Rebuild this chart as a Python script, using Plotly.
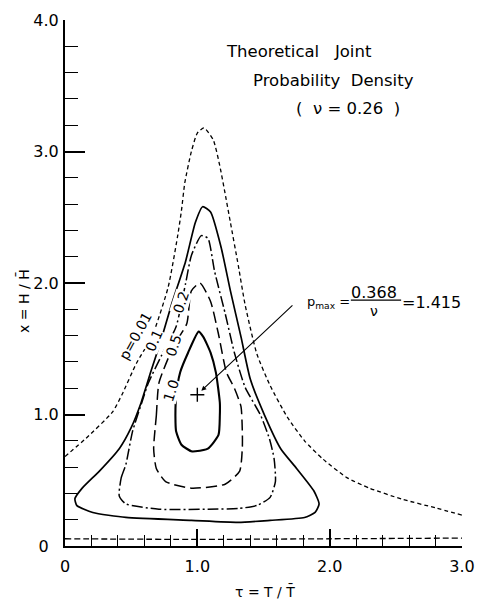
import plotly.graph_objects as go

# ---- data (tau = T/Tbar, x = H/Hbar) ----
# p = 0.01 contour, upper branch (short dashes)
c001_tau = [0.00, 0.16, 0.36, 0.43, 0.54, 0.66, 0.78, 0.85, 0.88, 0.905, 0.955, 1.00, 1.05, 1.12, 1.17, 1.21, 1.25, 1.31, 1.36, 1.45, 1.55, 1.68, 1.81, 1.95, 2.13, 2.30, 2.55, 2.80, 3.00]
c001_x = [0.68, 0.82, 1.02, 1.15, 1.39, 1.60, 1.97, 2.35, 2.55, 2.76, 3.00, 3.14, 3.18, 3.09, 2.89, 2.68, 2.46, 2.13, 1.84, 1.46, 1.22, 0.98, 0.80, 0.66, 0.52, 0.44, 0.355, 0.29, 0.235]
# p = 0.01 contour, lower branch near x = 0
c001lo_tau = [0.0, 1.0, 2.0, 3.0]
c001lo_x = [0.055, 0.05, 0.055, 0.06]

# p = 0.1 contour (solid)
c01_tau = [0.075, 0.13, 0.26, 0.41, 0.50, 0.575, 0.65, 0.73, 0.806, 0.91, 0.985, 1.04, 1.10, 1.18, 1.25, 1.33, 1.40, 1.51, 1.63, 1.75, 1.88, 1.92, 1.89, 1.81, 1.55, 1.31, 0.955, 0.46, 0.21, 0.09, 0.075]
c01_x = [0.36, 0.44, 0.57, 0.74, 0.90, 1.09, 1.33, 1.58, 1.84, 2.16, 2.46, 2.58, 2.54, 2.27, 1.94, 1.59, 1.27, 0.99, 0.74, 0.59, 0.42, 0.32, 0.255, 0.217, 0.195, 0.18, 0.195, 0.217, 0.255, 0.307, 0.36]

# p = 0.2 contour (dash-dot)
c02_tau = [0.41, 0.425, 0.46, 0.51, 0.58, 0.63, 0.73, 0.84, 0.91, 0.955, 1.03, 1.08, 1.13, 1.21, 1.28, 1.36, 1.48, 1.545, 1.58, 1.59, 1.55, 1.455, 1.31, 1.08, 0.71, 0.46, 0.41]
c02_x = [0.38, 0.52, 0.62, 0.87, 1.09, 1.24, 1.45, 1.67, 1.99, 2.21, 2.36, 2.34, 2.09, 1.77, 1.47, 1.21, 0.99, 0.815, 0.665, 0.49, 0.37, 0.31, 0.285, 0.28, 0.28, 0.32, 0.38]

# p = 0.5 contour (long dashes)
c05_tau = [0.67, 0.69, 0.71, 0.82, 0.92, 0.955, 1.02, 1.10, 1.16, 1.22, 1.28, 1.33, 1.34, 1.34, 1.32, 1.21, 0.955, 0.76, 0.69, 0.67]
c05_x = [0.74, 0.99, 1.24, 1.52, 1.69, 1.94, 2.00, 1.86, 1.61, 1.32, 1.20, 1.06, 0.87, 0.75, 0.57, 0.47, 0.44, 0.49, 0.59, 0.74]

# p = 1.0 contour (solid, heavy)
c10_tau = [0.835, 0.84, 0.87, 0.93, 1.01, 1.045, 1.10, 1.14, 1.17, 1.17, 1.16, 1.08, 0.985, 0.955, 0.88, 0.84, 0.835]
c10_x = [0.94, 1.14, 1.32, 1.47, 1.63, 1.59, 1.47, 1.32, 1.09, 0.99, 0.845, 0.74, 0.72, 0.72, 0.77, 0.87, 0.94]

# location of p_max
peak_tau = [1.0]
peak_x = [1.15]

x_tickvals = [0, 1, 2, 3]
x_ticktext = ["0", "1.0", "2.0", "3.0"]
y_tickvals = [0, 1, 2, 3, 4]
y_ticktext = ["0\u2007", "1.0", "2.0", "3.0", "4.0"]

FONT = "DejaVu Sans"

fig = go.Figure()

def add_line(tau, x, dash, width):
    fig.add_trace(go.Scatter(
        x=tau, y=x, mode="lines",
        line=dict(color="black", width=width, dash=dash, shape="spline", smoothing=0.55),
        hoverinfo="skip", showlegend=False))

add_line(c001_tau, c001_x, "4px,3px", 1.3)
add_line(c001lo_tau, c001lo_x, "6px,3px", 1.3)
add_line(c01_tau, c01_x, "solid", 1.7)
add_line(c02_tau, c02_x, "11px,3px,2px,3px", 1.5)
add_line(c05_tau, c05_x, "11px,5px", 1.5)
add_line(c10_tau, c10_x, "solid", 2.1)

fig.add_trace(go.Scatter(
    x=peak_tau, y=peak_x, mode="markers",
    marker=dict(symbol="cross-thin", size=10, line=dict(color="black", width=1.4)),
    hoverinfo="skip", showlegend=False))

ann = []
def txt(t, x, y, size=15, angle=0, bg=None, xanchor="center", xref="x", yref="y"):
    d = dict(text=t, x=x, y=y, xref=xref, yref=yref, showarrow=False,
             font=dict(family=FONT, size=size, color="black"),
             textangle=angle, xanchor=xanchor, yanchor="middle")
    if bg:
        d["bgcolor"] = bg
        d["borderpad"] = 0
    ann.append(d)

# title block
txt("Theoretical\u00a0\u00a0 Joint", 1.77, 3.76, 16.5)
txt("Probability\u00a0 Density", 2.03, 3.54, 16.5)
txt("(\u00a0 \u03bd = 0.26\u00a0 )", 2.14, 3.33, 16.5)

# contour labels
txt("p=0.01", 0.53, 1.60, 14, -61, bg="white")
txt("0.1", 0.67, 1.56, 14, -66, bg="white")
txt("0.2", 0.873, 1.85, 14, -72, bg="white")
txt("0.5", 0.82, 1.52, 14, -72, bg="white")
txt("1.0", 0.80, 1.18, 14, -72, bg="white")

# p_max annotation
txt("p<sub>max</sub> =", 1.81, 1.855, 13, xanchor="left")
txt("0.368", 2.336, 1.93, 16)
txt("\u03bd", 2.336, 1.79, 14)
txt("=1.415", 2.53, 1.855, 16, xanchor="left")

ann.append(dict(x=1.03, y=1.18, ax=1.73, ay=1.84, xref="x", yref="y", axref="x", ayref="y",
                text="", showarrow=True, arrowhead=2, arrowsize=0.9, arrowwidth=1.1,
                arrowcolor="black", standoff=0))

# axis titles
txt("x = H / H\u0304", -0.1045, 0.465, 14, -90, xref="paper", yref="paper")
txt("\u03c4 = T / T\u0304", 0.505, -0.086, 14, xref="paper", yref="paper")

fig.add_shape(type="line", x0=2.16, x1=2.54, y0=1.87, y1=1.87, xref="x", yref="y",
              line=dict(color="black", width=1.2))

fig.update_layout(
    width=486, height=604,
    margin=dict(l=65, r=19, t=11, b=58),
    paper_bgcolor="white", plot_bgcolor="white",
    font=dict(family=FONT, color="black"),
    annotations=ann,
    xaxis=dict(range=[0, 3], showline=True, linecolor="black", linewidth=2,
               showgrid=False, zeroline=False, ticks="inside", ticklen=17, tickwidth=1.5,
               tickcolor="black", tickmode="array", tickvals=x_tickvals, ticktext=x_ticktext,
               tickfont=dict(family=FONT, size=16), ticklabelstandoff=5,
               minor=dict(tickmode="linear", tick0=0, dtick=0.2, ticks="inside",
                          ticklen=11, tickwidth=1.2, tickcolor="black", showgrid=False)),
    yaxis=dict(range=[0, 4], showline=True, linecolor="black", linewidth=2,
               showgrid=False, zeroline=False, ticks="inside", ticklen=20, tickwidth=1.5,
               tickcolor="black", tickmode="array", tickvals=y_tickvals, ticktext=y_ticktext,
               tickfont=dict(family=FONT, size=16), ticklabelstandoff=1,
               minor=dict(tickmode="linear", tick0=0, dtick=0.2, ticks="inside",
                          ticklen=13, tickwidth=1.2, tickcolor="black", showgrid=False)),
)

fig.write_html("out.html")
